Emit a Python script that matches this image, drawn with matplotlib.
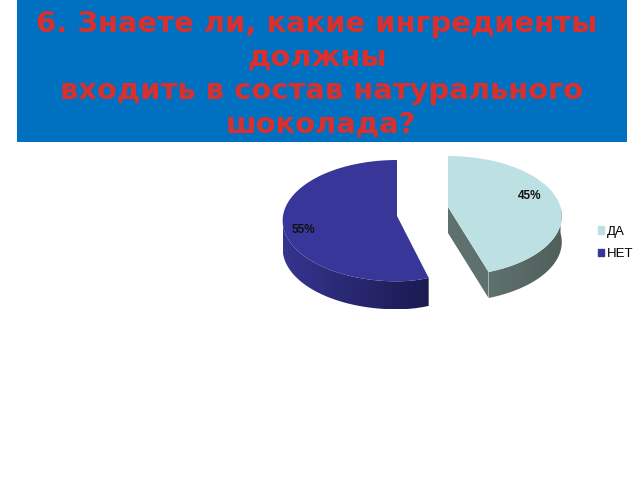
import numpy as np
import matplotlib
matplotlib.use("Agg")
import matplotlib.pyplot as plt
from matplotlib.colors import LinearSegmentedColormap
from matplotlib.patches import Patch, Polygon, Rectangle

categories = ["ДА", "НЕТ"]
shares = [45, 55]
title_lines = ["6. Знаете ли, какие ингредиенты", "должны", "входить в состав натурального", "шоколада?"]

TOP_COLORS = ["#bde0e2", "#383799"]
SIDE_COLORS = [("#5f716e", "#4f5f5c"), ("#35348f", "#1b1a50")]
# where each title line sits (centre x, baseline y)
TITLE_POS = [(316.5, 32), (317.5, 66), (321.5, 99), (321, 133)]
# look of each slice in pixels: apex, half widths left/right, height, perspective, depth
LOOK = [
    {"cx": 448, "cy": 207, "left": 112, "right": 112.5, "b": 58.6, "k": 0.15, "depth": 26},
    {"cx": 397, "cy": 216, "left": 114, "right": 95, "b": 60.3, "k": 0.077, "depth": 28},
]


def project(theta, look):
    """Turn pie angles (degrees) into picture coordinates with a bit of perspective."""
    u = np.cos(np.radians(theta))
    v = np.sin(np.radians(theta))
    w = 1 + look["k"] * v
    a = np.where(u > 0, look["right"], look["left"])
    return look["cx"] + a * u / w, look["cy"] - look["b"] * v / w


def draw_gradient(ax, xy, colors):
    """Fill a polygon with a left to right gradient."""
    poly = Polygon(xy, closed=True, transform=ax.transData, fc="none", ec="none")
    ax.add_patch(poly)
    cmap = LinearSegmentedColormap.from_list("side", colors)
    x0, x1 = xy[:, 0].min(), xy[:, 0].max()
    y0, y1 = xy[:, 1].min(), xy[:, 1].max()
    grad = np.linspace(0, 1, 128).reshape(1, -1)
    im = ax.imshow(grad, extent=(x0, x1, y1, y0), cmap=cmap, aspect="auto", zorder=2)
    im.set_clip_path(poly)


def draw_slice(ax, start, share, top_color, side_colors, look, side_from, side_to):
    stop = start - share * 3.6
    # outer wall
    t = np.linspace(side_from, side_to, 80)
    x, y = project(t, look)
    wall = np.r_[np.c_[x, y], np.c_[x, y + look["depth"]][::-1]]
    draw_gradient(ax, wall, side_colors)
    # cut face along the closing edge
    ex, ey = project(np.array([stop]), look)
    face = np.array([[look["cx"], look["cy"]], [ex[0], ey[0]],
                     [ex[0], ey[0] + look["depth"]],
                     [look["cx"], look["cy"] + look["depth"]]])
    if share < 50:
        draw_gradient(ax, face, (side_colors[0], side_colors[0]))
    # top face
    t = np.linspace(start, stop, 160)
    x, y = project(t, look)
    outline = np.r_[[[look["cx"], look["cy"]]], np.c_[x, y]]
    ax.fill(outline[:, 0], outline[:, 1], color=top_color, lw=0, zorder=3)


fig = plt.figure(figsize=(6.4, 4.8), dpi=100)
ax = fig.add_axes([0, 0, 1, 1])

# title band
ax.add_patch(Rectangle((17, 0), 610, 142, fc="#0070c0", ec="none"))
for line, (tx, ty) in zip(title_lines, TITLE_POS):
    ax.text(tx, ty, line, ha="center", va="baseline", color="#d9302e", fontsize=20.9,
            fontweight="bold", family="DejaVu Sans", zorder=5)

# pie, exploded slices start at 12 o'clock and run clockwise
stop_da = 90 - shares[0] * 3.6
draw_slice(ax, 90, shares[0], TOP_COLORS[0], SIDE_COLORS[0], LOOK[0], stop_da, 0)
draw_slice(ax, stop_da, shares[1], TOP_COLORS[1], SIDE_COLORS[1], LOOK[1], -180, stop_da)

ax.text(530, 196, f"{shares[0]}%", ha="center", va="center", fontsize=8.5,
        family="Liberation Sans", fontweight="bold", color="#111111", zorder=5)
ax.text(303, 230, f"{shares[1]}%", ha="center", va="center", fontsize=8.5,
        family="Liberation Sans", fontweight="bold", color="#111111", zorder=5)

handles = [Patch(color=c) for c in TOP_COLORS]
ax.legend(handles, categories, loc="center left", bbox_to_anchor=(586, 243),
          bbox_transform=ax.transData, frameon=False, handlelength=0.45, handleheight=0.45,
          handletextpad=0.25, labelspacing=0.8,
          prop={"family": "Liberation Sans", "size": 9.5})

ax.set_xlim(0, 640)
ax.set_ylim(480, 0)
ax.axis("off")
fig.savefig("out.png", dpi=100)
